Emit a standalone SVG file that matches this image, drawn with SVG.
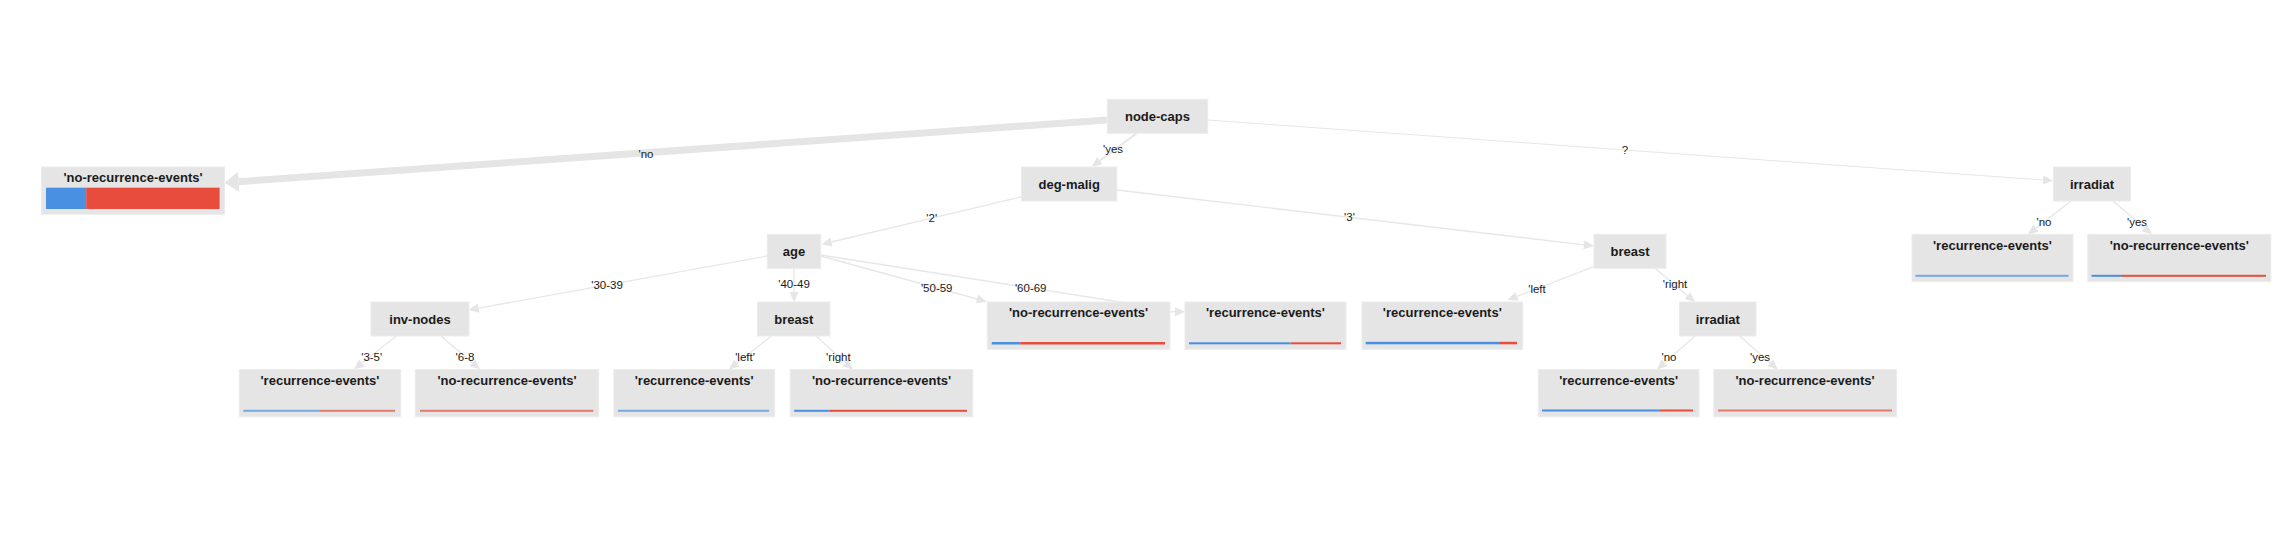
<svg xmlns="http://www.w3.org/2000/svg" width="2296" height="537" viewBox="0 0 2296 537">
<style>
.bg{fill:#ffffff}
.box{fill:#e5e5e5;stroke:#ececec;stroke-width:1}
.nt{font-family:"Liberation Sans",Arial,sans-serif;font-size:13px;font-weight:bold;fill:#1a1a1a;text-anchor:middle}
.el{font-family:"Liberation Sans",Arial,sans-serif;font-size:11.5px;fill:#1a1a1a;text-anchor:middle}
.e{fill:none;stroke:#e7e7e7;stroke-width:1.3}
.blue{fill:#4a90e2}
.red{fill:#e74c3c}
.light{opacity:0.7}
</style>
<defs>
<marker id="arr" markerUnits="userSpaceOnUse" markerWidth="10" markerHeight="9" refX="0" refY="4.5" orient="auto" overflow="visible">
<path d="M0,0 L10,4.5 L0,9 z" fill="#e5e5e5"/>
</marker>
<marker id="arrBig" markerUnits="userSpaceOnUse" markerWidth="14" markerHeight="20" refX="0" refY="10" orient="auto" overflow="visible">
<path d="M0,0 L14,10 L0,20 z" fill="#e5e5e5"/>
</marker>
</defs>
<rect class="bg" x="0" y="0" width="2296" height="537"/>

<g id="connectors">
<path class="e" d="M1107,120 L238.6,181.7" style="stroke:#e5e5e5;stroke-width:7" marker-end="url(#arrBig)"/>
<path class="e" d="M1136.7,133.3 L1099.7,160.7" style="stroke-width:2" marker-end="url(#arr)"/>
<path class="e" d="M1207.3,120 L2043,180" style="stroke-width:1" marker-end="url(#arr)"/>
<path class="e" d="M1021.7,196.7 L831.4,242" marker-end="url(#arr)"/>
<path class="e" d="M1116.8,190 L1583.9,244.8" marker-end="url(#arr)"/>
<path class="e" d="M767.3,256 L478.6,308.2" marker-end="url(#arr)"/>
<path class="e" d="M794,268.3 L794,292" marker-end="url(#arr)"/>
<path class="e" d="M820.7,256 L977.1,299" marker-end="url(#arr)"/>
<path class="e" d="M820.7,255 L1120,302 L1160,311.7 L1175,311.7" marker-end="url(#arr)"/>
<path class="e" d="M396.4,336 L361.9,363.1" marker-end="url(#arr)"/>
<path class="e" d="M441,336 L472.4,362.8" marker-end="url(#arr)"/>
<path class="e" d="M771.4,336 L736.8,363.3" marker-end="url(#arr)"/>
<path class="e" d="M816,336 L845.6,362.8" marker-end="url(#arr)"/>
<path class="e" d="M1593.8,266.7 L1516.9,296.4" marker-end="url(#arr)"/>
<path class="e" d="M1655,268.3 L1687.4,295.6" marker-end="url(#arr)"/>
<path class="e" d="M1695,336 L1664.5,362.9" marker-end="url(#arr)"/>
<path class="e" d="M1739.7,336 L1770.2,362.9" marker-end="url(#arr)"/>
<path class="e" d="M2071,201 L2035.9,228.2" marker-end="url(#arr)"/>
<path class="e" d="M2113,201 L2144.4,227.8" marker-end="url(#arr)"/>
<text class="el" x="646" y="158">'no</text>
<text class="el" x="1113" y="153.3">'yes</text>
<text class="el" x="1625" y="154">?</text>
<text class="el" x="931.7" y="221.7">'2'</text>
<text class="el" x="1349.5" y="221">'3'</text>
<text class="el" x="607" y="289">'30-39</text>
<text class="el" x="794" y="288.3">'40-49</text>
<text class="el" x="936.7" y="292.3">'50-59</text>
<text class="el" x="1030.7" y="292.3">'60-69</text>
<text class="el" x="371.7" y="360.7">'3-5'</text>
<text class="el" x="465" y="360.7">'6-8</text>
<text class="el" x="745" y="360.7">'left'</text>
<text class="el" x="838.4" y="360.7">'right</text>
<text class="el" x="1537" y="293">'left</text>
<text class="el" x="1675" y="288.3">'right</text>
<text class="el" x="1669" y="360.7">'no</text>
<text class="el" x="1760" y="360.7">'yes</text>
<text class="el" x="2044" y="226">'no</text>
<text class="el" x="2137" y="226">'yes</text>
</g>

<g id="n-node-caps"><rect class="box" x="1107.3" y="99.3" width="100.4" height="34"/><text class="nt" x="1157.5" y="120.8">node-caps</text></g>
<g id="n-deg-malig"><rect class="box" x="1021.5" y="167" width="95.3" height="34"/><text class="nt" x="1069.2" y="188.5">deg-malig</text></g>
<g id="n-irradiat-1"><rect class="box" x="2053.5" y="167" width="77" height="34"/><text class="nt" x="2092" y="188.5">irradiat</text></g>
<g id="n-age"><rect class="box" x="767.3" y="234.3" width="53.4" height="34"/><text class="nt" x="794" y="255.8">age</text></g>
<g id="n-breast-2"><rect class="box" x="1594" y="234.3" width="72" height="34"/><text class="nt" x="1630" y="255.8">breast</text></g>
<g id="n-inv-nodes"><rect class="box" x="371" y="302" width="98" height="34"/><text class="nt" x="420" y="323.5">inv-nodes</text></g>
<g id="n-breast-1"><rect class="box" x="757.6" y="302" width="72.3" height="34"/><text class="nt" x="793.8" y="323.5">breast</text></g>
<g id="n-irradiat-2"><rect class="box" x="1679.5" y="302" width="76.5" height="34"/><text class="nt" x="1717.8" y="323.5">irradiat</text></g>

<g id="leaf-0"><rect class="box" x="41.5" y="167" width="183" height="47.3"/><text class="nt" x="133" y="181.5">'no-recurrence-events'</text><rect class="blue" x="46" y="187.7" width="40.2" height="21.3"/><rect class="red" x="86.2" y="187.7" width="133.4" height="21.3"/></g>
<g id="leaf-1"><rect class="box" x="239.3" y="369.5" width="161.4" height="47.3"/><text class="nt" x="320" y="384.7">'recurrence-events'</text><g class="light"><rect class="blue" x="243.3" y="409.8" width="76" height="2"/><rect class="red" x="319.3" y="409.8" width="75.7" height="2"/></g></g>
<g id="leaf-2"><rect class="box" x="415.3" y="369.5" width="183.4" height="47.3"/><text class="nt" x="507" y="384.7">'no-recurrence-events'</text><g class="light"><rect class="red" x="420" y="409.8" width="173.3" height="2"/></g></g>
<g id="leaf-3"><rect class="box" x="613.8" y="369.5" width="160.8" height="47.3"/><text class="nt" x="694.2" y="384.7">'recurrence-events'</text><g class="light"><rect class="blue" x="618" y="409.8" width="151" height="2"/></g></g>
<g id="leaf-4"><rect class="box" x="790.2" y="369.5" width="182.6" height="47.3"/><text class="nt" x="881.5" y="384.7">'no-recurrence-events'</text><rect class="blue" x="794.2" y="409.8" width="35.3" height="2"/><rect class="red" x="829.5" y="409.8" width="137.5" height="2"/></g>
<g id="leaf-5"><rect class="box" x="987.3" y="302" width="182.7" height="47.3"/><text class="nt" x="1078.6" y="317.2">'no-recurrence-events'</text><rect class="blue" x="991.7" y="342" width="28.6" height="2.5"/><rect class="red" x="1020.3" y="342" width="144.7" height="2.5"/></g>
<g id="leaf-6"><rect class="box" x="1185" y="302" width="161" height="47.3"/><text class="nt" x="1265.5" y="317.2">'recurrence-events'</text><rect class="blue" x="1189" y="342.3" width="101.6" height="2"/><rect class="red" x="1290.6" y="342.3" width="50.4" height="2"/></g>
<g id="leaf-7"><rect class="box" x="1362" y="302" width="160.7" height="47.3"/><text class="nt" x="1442.3" y="317.2">'recurrence-events'</text><rect class="blue" x="1365.7" y="341.8" width="134.3" height="2.5"/><rect class="red" x="1500" y="341.8" width="17" height="2.5"/></g>
<g id="leaf-8"><rect class="box" x="1538.3" y="369.5" width="160.7" height="47.3"/><text class="nt" x="1618.6" y="384.7">'recurrence-events'</text><rect class="blue" x="1542" y="409.5" width="118" height="2"/><rect class="red" x="1660" y="409.5" width="33" height="2"/></g>
<g id="leaf-9"><rect class="box" x="1713.8" y="369.5" width="182.6" height="47.3"/><text class="nt" x="1805.1" y="384.7">'no-recurrence-events'</text><g class="light"><rect class="red" x="1718" y="409.5" width="174" height="2"/></g></g>
<g id="leaf-10"><rect class="box" x="1912" y="234.3" width="161" height="47.3"/><text class="nt" x="1992.5" y="249.5">'recurrence-events'</text><g class="light"><rect class="blue" x="1915.5" y="274.8" width="153" height="2"/></g></g>
<g id="leaf-11"><rect class="box" x="2087.8" y="234.3" width="183" height="47.3"/><text class="nt" x="2179.3" y="249.5">'no-recurrence-events'</text><rect class="blue" x="2091.5" y="274.8" width="29.5" height="2"/><rect class="red" x="2121" y="274.8" width="145" height="2"/></g>
</svg>
